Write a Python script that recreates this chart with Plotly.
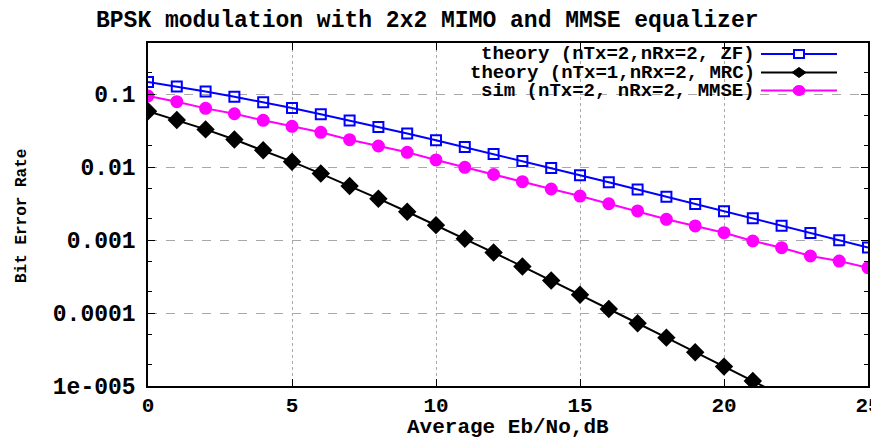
import plotly.graph_objects as go

# ---------------- data ----------------
ebno_db = list(range(26))
ber_zf_theory = [0.14645, 0.12673, 0.10849, 0.09192, 0.07714, 0.06418, 0.05300, 0.04347,
                 0.03546, 0.02878, 0.02327, 0.01875, 0.01506, 0.01208, 0.00967, 0.00773,
                 0.00617, 0.00492, 0.00392, 0.00312, 0.00248, 0.00198, 0.00157, 0.00125,
                 0.000994, 0.000790]
ber_mrc_theory = [0.05806, 0.04411, 0.03276, 0.02379, 0.01693, 0.01183, 0.008129, 0.005504,
                  0.003683, 0.002437, 0.001599, 0.0010415, 0.0006736, 0.0004343, 0.0002787,
                  0.0001783, 0.0001137, 7.238e-5, 4.598e-5, 2.905e-5, 1.844e-5, 1.171e-5,
                  7.43e-6, 4.7e-6, 2.98e-6, 1.89e-6]
ber_mmse_sim = [0.0939, 0.0785, 0.0636, 0.0537, 0.0436, 0.0361, 0.0299, 0.0237, 0.0194,
                0.0159, 0.0125, 0.0099, 0.0079, 0.0063, 0.0050, 0.0040, 0.00314, 0.0025,
                0.00192, 0.00156, 0.00126, 0.00097, 0.000785, 0.000604, 0.000515, 0.000418]

series_names = ["theory (nTx=2,nRx=2, ZF)", "theory (nTx=1,nRx=2, MRC)", "sim (nTx=2, nRx=2, MMSE)"]
x_tick_vals = [0, 5, 10, 15, 20, 25]
y_tick_vals = [1e-5, 1e-4, 1e-3, 1e-2, 1e-1]
y_tick_text = ["1e-005", "0.0001", "0.001", "0.01", "0.1"]
title_text = "BPSK modulation with 2x2 MIMO and MMSE equalizer"
x_title = "Average Eb/No,dB"
y_title = "Bit Error Rate"

# ---------------- layout geometry ----------------
# the page body adds an 8px offset; design in window pixels and shift
OFF = 8
W, H = 875, 439 - OFF
L, T = 148 - OFF, 43 - OFF
R = W - (868 - OFF)
B = H - (386 - OFF)
PW, PH = W - L - R, H - T - B

def px_x(px):
    return (px - OFF - L) / PW

def px_y(py):
    return (H - B - (py - OFF)) / PH

FONT = "Liberation Mono"
FS = 23
FS_X = 21

colors = ["#0000ff", "#000000", "#ff00ff"]
symbols = ["square-open", "diamond", "circle"]
msizes = [10, 12, 11]
series = [ber_zf_theory, ber_mrc_theory, ber_mmse_sim]

fig = go.Figure()
for name, ys, c, s, ms in zip(series_names, series, colors, symbols, msizes):
    fig.add_trace(go.Scatter(
        x=ebno_db, y=ys, mode="lines+markers", name=name,
        line=dict(color=c, width=2),
        marker=dict(symbol=s, size=ms, color=c, line=dict(color=c, width=2)),
        showlegend=False,
    ))

axis_common = dict(
    showline=True, linecolor="black", linewidth=1.5, mirror="ticks",
    ticks="inside", ticklen=7, tickwidth=1, tickcolor="black",
    showgrid=True, gridcolor="#a8a8a8", gridwidth=1,
    zeroline=False, automargin=False,
)

fig.update_xaxes(range=[0, 25], tickvals=x_tick_vals, griddash="dot",
                 ticklabelstandoff=-1,
                 tickfont=dict(family=FONT, size=FS_X, color="black", weight="bold"),
                 **axis_common)
fig.update_yaxes(type="log", range=[-5, -0.30103], tickvals=y_tick_vals, ticktext=y_tick_text,
                 griddash="dash", ticklabelstandoff=6,
                 tickfont=dict(family=FONT, size=FS, color="black", weight="bold"),
                 minor=dict(ticks="inside", ticklen=4, tickcolor="black", dtick="D2", showgrid=False),
                 **axis_common)

annotations = [
    dict(text=title_text, xref="paper", yref="paper", x=px_x(427), y=px_y(21),
         xanchor="center", yanchor="middle", showarrow=False,
         font=dict(family=FONT, size=FS, color="black", weight="bold")),
    dict(text=x_title, xref="paper", yref="paper", x=px_x(508), y=px_y(427),
         xanchor="center", yanchor="middle", showarrow=False,
         font=dict(family=FONT, size=FS_X, color="black", weight="bold")),
    dict(text=y_title, xref="paper", yref="paper", x=px_x(22), y=px_y(216),
         xanchor="center", yanchor="middle", showarrow=False, textangle=-90,
         font=dict(family=FONT, size=16, color="black", weight="bold")),
]

# custom gnuplot-style key: text on the left, sample on the right
key_rows = [54, 72.5, 90.5]
shapes = []
for name, c, s, py in zip(series_names, colors, symbols, key_rows):
    annotations.append(dict(text=name, xref="paper", yref="paper", x=px_x(757), y=px_y(py),
                            xanchor="right", yanchor="middle", showarrow=False,
                            font=dict(family=FONT, size=19, color="black", weight="bold")))
    shapes.append(dict(type="line", xref="paper", yref="paper", x0=px_x(761), x1=px_x(837),
                       y0=px_y(py), y1=px_y(py), line=dict(color=c, width=2)))
    cx, cy = px_x(799), px_y(py)
    if s == "square-open":
        shapes.append(dict(type="rect", xref="paper", yref="paper", xsizemode="pixel", ysizemode="pixel",
                           xanchor=cx, yanchor=cy, x0=-5, x1=5, y0=-4, y1=4,
                           line=dict(color=c, width=2), fillcolor="white"))
    elif s == "diamond":
        shapes.append(dict(type="path", xref="paper", yref="paper", xsizemode="pixel", ysizemode="pixel",
                           xanchor=cx, yanchor=cy, path="M -7 0 L 0 5 L 7 0 L 0 -5 Z",
                           line=dict(color=c, width=1), fillcolor=c))
    else:
        shapes.append(dict(type="circle", xref="paper", yref="paper", xsizemode="pixel", ysizemode="pixel",
                           xanchor=cx, yanchor=cy, x0=-6, x1=6, y0=-5, y1=5,
                           line=dict(color=c, width=1), fillcolor=c))

fig.update_layout(
    width=W, height=H, autosize=False,
    margin=dict(l=L, r=R, t=T, b=B),
    paper_bgcolor="white", plot_bgcolor="white",
    showlegend=False,
    annotations=annotations, shapes=shapes,
    font=dict(family=FONT, size=FS, color="black"),
)

fig.write_html("out.html")
